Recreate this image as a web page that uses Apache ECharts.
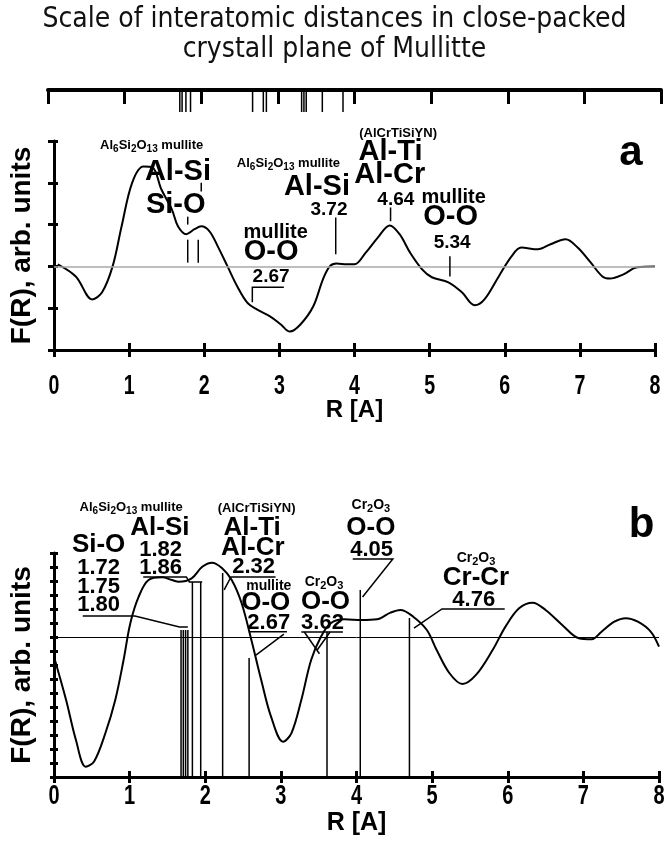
<!DOCTYPE html>
<html><head><meta charset="utf-8">
<script src="https://cdn.jsdelivr.net/npm/echarts@6/dist/echarts.min.js"></script>
<style>html,body{margin:0;padding:0;background:#fff}#c{width:669px;height:842px}</style>
</head><body><div id="c"></div>
<script>
// ---------- data ----------
const TITLE_TEXT = 'Scale of interatomic distances in close-packed\ncrystall plane of Mullitte';
const X_NAME = 'R [A]';
const Y_NAME = 'F(R), arb. units';
const X_TICKS = [0, 1, 2, 3, 4, 5, 6, 7, 8];
// interatomic distances marked on the top scale (Å)
const SCALE_DISTANCES = [1.72, 1.75, 1.80, 1.86, 2.67, 2.81, 2.85, 3.31, 3.34, 3.37, 3.58, 3.85];
// panel a curve
const R_A = [0.05,0.29,0.51,0.64,0.78,0.90,1.04,1.19,1.31,1.43,1.57,1.65,1.76,1.87,1.96,2.07,2.18,2.31,2.44,2.57,2.70,2.88,3.02,3.14,3.28,3.45,3.58,3.67,3.76,3.90,4.00,4.15,4.31,4.47,4.60,4.74,4.90,5.03,5.25,5.43,5.60,5.73,5.92,6.09,6.22,6.44,6.61,6.81,6.97,7.14,7.30,7.40,7.58,7.76,8.00];
const F_A = [0.05,-0.24,-0.79,-0.62,0.00,0.96,2.00,2.39,2.37,1.84,1.36,0.96,0.77,0.89,0.96,0.84,0.48,0.00,-0.48,-0.86,-1.03,-1.20,-1.39,-1.56,-1.39,-0.96,-0.31,0.00,0.07,0.05,0.05,0.33,0.69,0.98,0.77,0.33,-0.07,-0.26,-0.38,-0.62,-0.93,-0.79,-0.24,0.24,0.45,0.41,0.53,0.65,0.45,0.10,-0.24,-0.29,-0.19,-0.02,0.00];
// panel b curve
const R_B = [0.00,0.16,0.29,0.42,0.53,0.68,0.81,0.92,1.01,1.12,1.25,1.43,1.56,1.65,1.82,1.96,2.09,2.22,2.35,2.48,2.61,2.74,2.87,3.03,3.14,3.27,3.40,3.53,3.66,3.84,4.07,4.27,4.45,4.58,4.75,4.93,5.06,5.23,5.40,5.58,5.80,5.97,6.15,6.33,6.50,6.72,6.94,7.11,7.24,7.41,7.56,7.72,7.89,8.00];
const F_B = [-1.41,-4.50,-7.36,-9.26,-8.90,-6.86,-4.50,-1.64,1.00,2.88,4.07,4.26,4.07,3.95,4.19,5.02,5.31,4.93,4.07,2.43,-0.21,-3.07,-5.69,-7.48,-6.86,-4.50,-1.64,0.02,0.98,1.26,1.21,1.26,1.74,1.93,1.45,0.50,-0.93,-2.59,-3.36,-2.71,-0.93,0.74,2.05,2.45,1.93,0.86,-0.09,-0.16,0.38,1.09,1.34,1.09,0.38,-0.69];
// panel b distance lines (R) and their upper ends
const B_LINE_R   = [1.68, 1.71, 1.74, 1.77, 1.83, 1.94, 2.23, 2.58, 3.61, 4.05, 4.70];
const B_LINE_TOP = [0.5, 0.5, 0.5, 0.5, 3.93, 3.93, 4.57, -1.5, 0.38, 3.36, 1.36];

// ---------- annotation layout (data coordinates) ----------
const SANS = "'Liberation Sans', Arial, sans-serif";
const A_TEXTS = [
  {t:'Al_6Si_2O_13 mullite', r:1.30, f:2.90, s:13},
  {t:'Al-Si', r:1.65, f:2.26, s:29},
  {t:'Si-O', r:1.62, f:1.47, s:29},
  {t:'mullite', r:2.95, f:0.82, s:20},
  {t:'O-O', r:2.89, f:0.34, s:29},
  {t:'2.67', r:2.89, f:-0.25, s:19},
  {t:'Al_6Si_2O_13 mullite', r:3.12, f:2.47, s:13},
  {t:'Al-Si', r:3.50, f:1.90, s:29},
  {t:'3.72', r:3.66, f:1.35, s:19},
  {t:'(AlCrTiSiYN)', r:4.58, f:3.19, s:13},
  {t:'Al-Ti', r:4.48, f:2.74, s:29},
  {t:'Al-Cr', r:4.47, f:2.19, s:29},
  {t:'4.64', r:4.55, f:1.59, s:19},
  {t:'mullite', r:5.32, f:1.66, s:20},
  {t:'O-O', r:5.28, f:1.18, s:29},
  {t:'5.34', r:5.30, f:0.56, s:19},
  {t:'a', r:7.68, f:2.71, s:42}
];
const A_LEADERS = [
  [[1.96,2.0],[1.96,1.79]],
  [[1.78,1.19],[1.78,1.0]],
  [[1.78,0.64],[1.78,0.09]],
  [[1.92,0.64],[1.92,0.09]],
  [[3.06,-0.5],[2.64,-0.5],[2.64,-0.86]],
  [[3.75,1.17],[3.75,0.29]],
  [[4.48,1.41],[4.48,1.08]],
  [[5.27,0.24],[5.27,-0.24]]
];
const B_TEXTS = [
  {t:'Al_6Si_2O_13 mullite', r:1.02, f:9.29, s:13},
  {t:'Al-Si', r:1.40, f:7.79, s:26},
  {t:'Si-O', r:0.59, f:6.57, s:26},
  {t:'1.82', r:1.41, f:6.21, s:22},
  {t:'1.86', r:1.41, f:4.93, s:22},
  {t:'1.72', r:0.59, f:4.93, s:22},
  {t:'1.75', r:0.59, f:3.57, s:22},
  {t:'1.80', r:0.59, f:2.29, s:22},
  {t:'(AlCrTiSiYN)', r:2.68, f:9.21, s:13},
  {t:'Al-Ti', r:2.62, f:7.79, s:26},
  {t:'Al-Cr', r:2.63, f:6.36, s:26},
  {t:'2.32', r:2.64, f:5.00, s:22},
  {t:'mullite', r:2.84, f:3.64, s:14},
  {t:'O-O', r:2.80, f:2.43, s:26},
  {t:'2.67', r:2.84, f:1.00, s:22},
  {t:'Cr_2O_3', r:3.57, f:3.93, s:14},
  {t:'O-O', r:3.59, f:2.50, s:26},
  {t:'3.62', r:3.55, f:1.00, s:22},
  {t:'Cr_2O_3', r:4.19, f:9.43, s:14},
  {t:'O-O', r:4.19, f:7.79, s:26},
  {t:'4.05', r:4.20, f:6.21, s:22},
  {t:'Cr_2O_3', r:5.58, f:5.64, s:14},
  {t:'Cr-Cr', r:5.58, f:4.21, s:26},
  {t:'4.76', r:5.55, f:2.64, s:22},
  {t:'b', r:7.77, f:8.0, s:42}
];
const B_LEADERS = [
  [[0.38,1.5],[1.07,1.5],[1.66,0.71],[1.77,0.71]],
  [[1.18,4.29],[1.75,4.29],[1.79,3.93],[1.96,3.93]],
  [[2.25,3.36],[2.34,4.29],[2.93,4.29]],
  [[3.08,0.38],[2.58,0.38]],
  [[3.04,0.21],[2.67,-1.29]],
  [[3.27,0.36],[3.82,0.36]],
  [[3.31,0.36],[3.51,-1.2]],
  [[3.65,0.36],[3.48,-0.93]],
  [[3.95,5.57],[4.48,5.57],[4.08,2.86]],
  [[5.96,2.0],[5.13,2.0],[4.76,0.64]]
];

// ---------- helpers ----------
function richText(t) {
  return t.split(/(_\d+)/).filter(p => p.length).map(p =>
    p[0] === '_' ? '{s|' + p.slice(1) + '}' : '{n|' + p + '}').join('');
}
function richStyles(size) {
  return {
    n: { fontSize: size, fontWeight: 'bold', fontFamily: SANS, fill: '#000', lineHeight: Math.round(size * 1.35), verticalAlign: 'middle' },
    s: { fontSize: Math.round(size * 0.8), fontWeight: 'bold', fontFamily: SANS, fill: '#000', verticalAlign: 'bottom' }
  };
}
function textSeries(xi, yi, items) {
  return {
    type: 'custom', xAxisIndex: xi, yAxisIndex: yi, silent: true, clip: false, z: 6,
    data: items.map(d => [d.r, d.f]),
    renderItem: (params, api) => {
      const d = items[params.dataIndex];
      const p = api.coord([api.value(0), api.value(1)]);
      return { type: 'text', x: p[0], y: p[1], style: { text: richText(d.t), rich: richStyles(d.s),
        x: 0, y: 0, fill: '#000', align: 'center', verticalAlign: 'middle' } };
    }
  };
}
function tickLabelSeries(xi, yi, yBase, offset, size, sx) {
  return {
    type: 'custom', xAxisIndex: xi, yAxisIndex: yi, silent: true, clip: false, z: 6,
    data: X_TICKS.map(v => [v, yBase]),
    renderItem: (params, api) => {
      const p = api.coord([api.value(0), api.value(1)]);
      return { type: 'text', x: p[0], y: p[1] + offset, scaleX: sx, scaleY: 1,
        style: { text: String(X_TICKS[params.dataIndex]), x: 0, y: 0, fill: '#000',
          fontSize: size, fontWeight: 'bold', fontFamily: SANS, align: 'center', verticalAlign: 'middle' } };
    }
  };
}
function polySeries(xi, yi, polys, width) {
  return {
    type: 'custom', xAxisIndex: xi, yAxisIndex: yi, silent: true, clip: false, z: 5,
    data: polys.map(p => [p[0][0], p[0][1]]),
    renderItem: (params, api) => ({
      type: 'polyline',
      shape: { points: polys[params.dataIndex].map(pt => api.coord(pt)) },
      style: { stroke: '#000', lineWidth: width, fill: null }
    })
  };
}
function vlineSeries(xi, yi, xs, tops, bottom, width) {
  return {
    type: 'custom', xAxisIndex: xi, yAxisIndex: yi, silent: true, clip: false, z: 4,
    data: xs.map((x, i) => [x, tops[i]]),
    renderItem: (params, api) => {
      const a = api.coord([api.value(0), api.value(1)]);
      const b = api.coord([api.value(0), bottom]);
      return { type: 'line', shape: { x1: a[0], y1: a[1], x2: b[0], y2: b[1] },
        style: { stroke: '#000', lineWidth: width } };
    }
  };
}
function line(show, w) { return { show: show, onZero: false, lineStyle: { color: '#000', width: w } }; }
function tick(inside, len, w) { return { show: true, inside: inside, length: len, lineStyle: { color: '#000', width: w } }; }
function xAx(grid, opts) {
  return Object.assign({ type: 'value', gridIndex: grid, min: 0, max: 8, interval: 1,
    splitLine: { show: false }, axisLabel: { show: false } }, opts);
}
function yAx(grid, min, max, opts) {
  return Object.assign({ type: 'value', gridIndex: grid, min: min, max: max, interval: 1,
    splitLine: { show: false }, axisLabel: { show: false } }, opts);
}
function nameStyle(size) { return { fontSize: size, fontWeight: 'bold', fontFamily: SANS, color: '#000' }; }

const chart = echarts.init(document.getElementById('c'), null, { renderer: 'canvas' });
chart.setOption({
  animation: false,
  backgroundColor: '#fff',
  title: { text: TITLE_TEXT, left: 'center', top: 0,
    textStyle: { fontFamily: "'DejaVu Sans Condensed', 'DejaVu Sans', sans-serif", fontSize: 28, fontWeight: 'normal', lineHeight: 30, color: '#111' } },
  grid: [
    { left: 48, right: 8, top: 90, height: 22 },
    { left: 48, right: 14, top: 141, height: 209 },
    { left: 48, right: 10, top: 553, height: 224 }
  ],
  xAxis: [
    xAx(0, { position: 'top', axisLine: line(true, 4), axisTick: tick(true, 14, 3) }),
    xAx(1, { position: 'bottom', axisLine: line(true, 3), axisTick: tick(false, 7, 3),
      name: X_NAME, nameLocation: 'middle', nameGap: 48, nameTextStyle: nameStyle(24) }),
    xAx(1, { position: 'bottom', axisLine: line(false, 3), axisTick: tick(true, 7, 3) }),
    xAx(2, { position: 'bottom', axisLine: line(true, 3), axisTick: tick(false, 6, 3),
      name: X_NAME, nameLocation: 'middle', nameGap: 34, nameTextStyle: nameStyle(25) }),
    xAx(2, { position: 'bottom', axisLine: line(false, 3), axisTick: tick(true, 6, 3) })
  ],
  yAxis: [
    yAx(0, 0, 1, { show: false }),
    yAx(1, -2, 3, { position: 'left', axisLine: line(true, 3), axisTick: tick(false, 6, 3),
      name: Y_NAME, nameLocation: 'middle', nameRotate: 90, nameGap: 18, nameTextStyle: nameStyle(28) }),
    yAx(1, -2, 3, { position: 'left', axisLine: line(false, 3), axisTick: tick(true, 4, 3) }),
    yAx(2, -10, 6, { position: 'left', axisLine: line(true, 3), axisTick: tick(false, 4, 3),
      name: Y_NAME, nameLocation: 'middle', nameRotate: 90, nameGap: 18, nameTextStyle: nameStyle(28) }),
    yAx(2, -10, 6, { position: 'left', axisLine: line(false, 3), axisTick: tick(true, 4, 3) })
  ],
  series: [
    vlineSeries(0, 0, SCALE_DISTANCES, SCALE_DISTANCES.map(() => 1), 0, 1.5),
    { type: 'line', xAxisIndex: 1, yAxisIndex: 1, data: R_A.map((r, i) => [r, F_A[i]]),
      smooth: 0.35, symbol: 'none', lineStyle: { color: '#000', width: 2 }, z: 3,
      markLine: { silent: true, symbol: 'none', label: { show: false },
        lineStyle: { color: '#a8a8a8', width: 1.5, type: 'solid' }, data: [{ yAxis: 0 }] } },
    polySeries(1, 1, A_LEADERS, 1.5),
    textSeries(1, 1, A_TEXTS),
    tickLabelSeries(1, 1, -2, 36, 28, 0.7),
    { type: 'line', xAxisIndex: 3, yAxisIndex: 3, data: R_B.map((r, i) => [r, F_B[i]]),
      smooth: 0.35, symbol: 'none', lineStyle: { color: '#000', width: 2 }, z: 3,
      markLine: { silent: true, symbol: 'none', label: { show: false },
        lineStyle: { color: '#000', width: 1, type: 'solid' }, data: [{ yAxis: 0 }] } },
    vlineSeries(3, 3, B_LINE_R, B_LINE_TOP, -10, 1.5),
    polySeries(3, 3, B_LEADERS, 1.5),
    textSeries(3, 3, B_TEXTS),
    tickLabelSeries(3, 3, -10, 20, 27, 0.74)
  ]
});
</script></body></html>
